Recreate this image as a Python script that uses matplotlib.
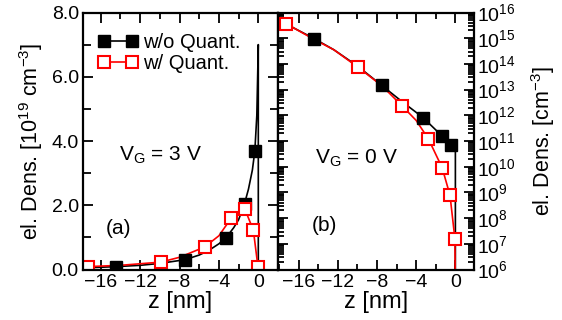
import matplotlib
matplotlib.use('Agg')
import matplotlib.pyplot as plt
from matplotlib.ticker import MultipleLocator, FormatStrFormatter, LogLocator, NullFormatter
import numpy as np

plt.rcParams['font.family'] = ['Liberation Sans', 'DejaVu Sans']
plt.rcParams['mathtext.fontset'] = 'custom'
plt.rcParams['mathtext.rm'] = 'Liberation Sans'
plt.rcParams['mathtext.it'] = 'Liberation Sans:italic'
plt.rcParams['mathtext.bf'] = 'Liberation Sans:bold'

# ── (a) V_G = 3 V, linear, units of 1e19 cm^-3 ──────────────────────────
a_black_z = [-17.8, -16, -14.4, -12, -10, -8, -7.4, -6, -5, -4, -3.3, -2.5, -2, -1.4,
             -1.0, -0.6, -0.35, -0.15, 0.0, 0.0]
a_black_n = [0.05, 0.07, 0.09, 0.13, 0.19, 0.28, 0.31, 0.45, 0.60, 0.80, 0.98, 1.30,
             1.55, 2.05, 2.50, 3.10, 3.70, 4.80, 7.00, 0.0]
a_black_mz = [-14.4, -7.4, -3.3, -1.4, -0.35]
a_black_mn = [0.09, 0.31, 0.98, 2.05, 3.70]

a_red_z = [-17.3, -14, -9.9, -8, -5.45, -4, -2.75, -2, -1.35, -0.5, -0.03]
a_red_n = [0.09, 0.13, 0.23, 0.38, 0.70, 1.05, 1.60, 1.78, 1.87, 1.22, 0.07]
a_red_mz = [-17.3, -9.9, -5.45, -2.75, -1.35, -0.5, -0.03]
a_red_mn = [0.09, 0.23, 0.70, 1.60, 1.87, 1.22, 0.07]

# ── (b) V_G = 0 V, log, cm^-3 (log10 values) ────────────────────────────
b_black_z = [-17.6, -14.4, -12.4, -10, -7.5, -5.5, -3.3, -1.4, -0.4, 0.0, 0.0]
b_black_lg = [15.62, 14.98, 14.55, 13.92, 13.16, 12.55, 11.91, 11.21, 10.84, 10.75, 5.0]
b_black_mz = [-14.4, -7.5, -3.3, -1.4, -0.4]
b_black_mlg = [14.98, 13.16, 11.91, 11.21, 10.84]

b_red_z = [-17.3, -14.4, -12.4, -9.9, -7.5, -5.45, -4, -2.75, -1.35, -0.55, -0.05, 0.0]
b_red_lg = [15.57, 14.95, 14.55, 13.86, 13.15, 12.37, 11.80, 11.08, 9.96, 8.89, 7.20, 5.0]
b_red_mz = [-17.3, -9.9, -5.45, -2.75, -1.35, -0.55, -0.05]
b_red_mlg = [15.57, 13.86, 12.37, 11.08, 9.96, 8.89, 7.20]

RED = '#ff0000'
LW = 1.2
MS = 8.5

fig = plt.figure(figsize=(5.62, 3.2), dpi=100)
axa = fig.add_axes([83 / 562, 50.5 / 320, 195 / 562, 257 / 320])
axb = fig.add_axes([278 / 562, 50.5 / 320, 196 / 562, 257 / 320])

# panel (a)
axa.plot(a_black_z, a_black_n, color='black', lw=LW)
axa.plot(a_red_z, a_red_n, color=RED, lw=LW)
axa.plot(a_black_mz, a_black_mn, ls='none', marker='s', ms=MS, mfc='black', mec='black')
axa.plot(a_red_mz, a_red_mn, ls='none', marker='s', ms=MS, mfc='white', mec=RED, mew=1.5)

hb, = axa.plot([], [], color='black', lw=LW, marker='s', ms=MS, mfc='black', mec='black')
hr, = axa.plot([], [], color=RED, lw=LW, marker='s', ms=MS, mfc='white', mec=RED, mew=1.5)
axa.legend([hb, hr], ['w/o Quant.', 'w/ Quant.'], loc='upper left', frameon=False,
           numpoints=2, handlelength=2.0, handletextpad=0.25, fontsize=14.5,
           labelspacing=0.1, borderaxespad=0.0, borderpad=0.0,
           bbox_to_anchor=(0.075, 0.92))

axa.set_xlim(-17.8, 2.0)
axa.set_ylim(0, 8.0)
axa.xaxis.set_major_locator(MultipleLocator(4))
axa.xaxis.set_minor_locator(MultipleLocator(2))
axa.yaxis.set_major_locator(MultipleLocator(2))
axa.yaxis.set_minor_locator(MultipleLocator(1))
axa.yaxis.set_major_formatter(FormatStrFormatter('%.1f'))
axa.set_ylabel('el. Dens. [10$^{19}$ cm$^{-3}$]', fontsize=15.5)
axa.yaxis.set_label_coords(-0.195, 0.5)
axa.text(0.40, 0.445, 'V$_\\mathregular{G}$ = 3 V', transform=axa.transAxes,
         fontsize=15, ha='center', va='center')
axa.text(0.18, 0.16, '(a)', transform=axa.transAxes, fontsize=15, ha='center', va='center')

# panel (b)
axb.semilogy(b_black_z, np.power(10.0, b_black_lg), color='black', lw=LW)
axb.semilogy(b_red_z, np.power(10.0, b_red_lg), color=RED, lw=LW)
axb.semilogy(b_black_mz, np.power(10.0, b_black_mlg), ls='none', marker='s', ms=MS,
             mfc='black', mec='black')
axb.semilogy(b_red_mz, np.power(10.0, b_red_mlg), ls='none', marker='s', ms=MS,
             mfc='white', mec=RED, mew=1.5)
axb.set_xlim(-18.1, 1.9)
axb.set_ylim(1e6, 1e16)
axb.xaxis.set_major_locator(MultipleLocator(4))
axb.xaxis.set_minor_locator(MultipleLocator(2))
axb.set_yticks(10.0 ** np.arange(6, 17))
axb.yaxis.set_minor_locator(LogLocator(base=10, subs=np.arange(2, 10), numticks=20))
axb.yaxis.set_minor_formatter(NullFormatter())
axb.set_ylim(1e6, 1e16)
axb.yaxis.set_label_position('right')
axb.set_ylabel('el. Dens. [cm$^{-3}$]', fontsize=15.5)
axb.yaxis.set_label_coords(1.28, 0.5)
axb.text(0.40, 0.434, 'V$_\\mathregular{G}$ = 0 V', transform=axb.transAxes,
         fontsize=15, ha='center', va='center')
axb.text(0.235, 0.17, '(b)', transform=axb.transAxes, fontsize=15, ha='center', va='center')

for ax in (axa, axb):
    ax.set_xlabel('z [nm]', fontsize=17, labelpad=0)
    for s in ax.spines.values():
        s.set_linewidth(1.6)
    ax.tick_params(which='both', direction='in', top=True, right=True, width=1.3,
                   labelsize=14)
    ax.tick_params(which='major', length=7, pad=3)
    ax.tick_params(which='minor', length=4.5)

axa.tick_params(axis='y', which='minor', length=6)
axb.tick_params(axis='y', which='both', left=True, right=True, labelleft=False,
                labelright=True)
axb.tick_params(axis='y', which='major', length=7, labelsize=14, pad=2)
axb.tick_params(axis='y', which='minor', length=4)

fig.savefig('out.png', dpi=100)
